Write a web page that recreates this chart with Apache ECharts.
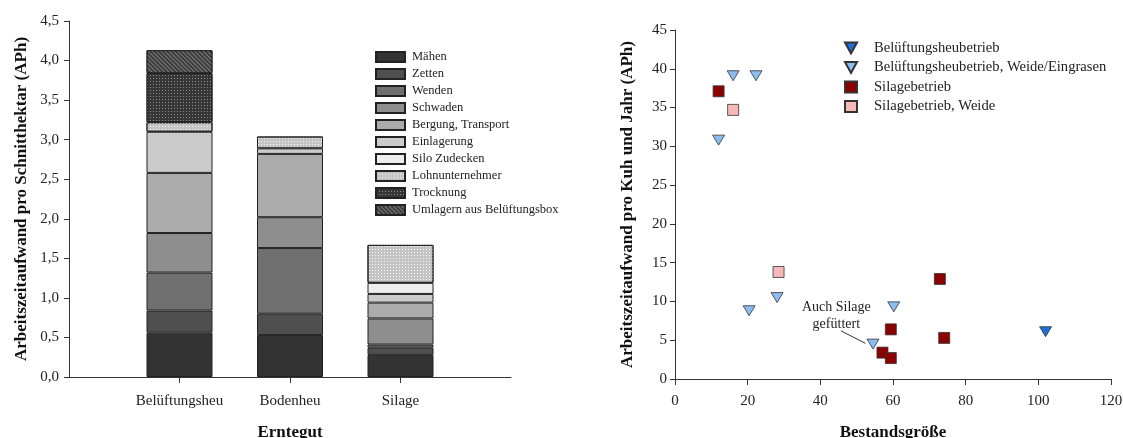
<!DOCTYPE html>
<html><head><meta charset="utf-8">
<script src="https://cdn.jsdelivr.net/npm/echarts@6/dist/echarts.min.js"></script>
<style>html,body{margin:0;padding:0;background:#fff}#c{width:1123px;height:438px}</style>
</head><body><div id="c"></div>
<script>
// ---- Left chart data ----
const categories = ['Belüftungsheu', 'Bodenheu', 'Silage'];
const taskNames = ['Mähen','Zetten','Wenden','Schwaden','Bergung, Transport','Einlagerung','Silo Zudecken','Lohnunternehmer','Trocknung','Umlagern aus Belüftungsbox'];
const maehen        = [0.56, 0.53, 0.28];
const zetten        = [0.28, 0.27, 0.09];
const wenden        = [0.48, 0.83, 0.04];
const schwaden      = [0.50, 0.39, 0.33];
const bergung       = [0.76, 0.80, 0.20];
const einlagerung   = [0.52, 0.07, 0.11];
const siloZudecken  = [0, 0, 0.14];
const lohnunternehmer = [0.12, 0.15, 0.48];
const trocknung     = [0.62, 0, 0];
const umlagern      = [0.29, 0, 0];
const leftYTicks = ['0,0','0,5','1,0','1,5','2,0','2,5','3,0','3,5','4,0','4,5'];

// ---- Right chart data: [Bestandsgröße, APh] ----
const belueftungsheubetrieb = [[102, 6.1]];
const belueftungsheuWeide = [[16, 39.1],[22.3, 39.1],[12, 30.8],[20.4, 8.8],[28.1, 10.5],[60.2, 9.3],[54.5, 4.5]];
const silagebetrieb = [[12, 37.1],[72.9, 12.9],[59.4, 6.4],[74.1, 5.3],[57.1, 3.4],[59.4, 2.7]];
const silageWeide = [[16, 34.7],[28.5, 13.8]];
const scatterNames = ['Belüftungsheubetrieb','Belüftungsheubetrieb, Weide/Eingrasen','Silagebetrieb','Silagebetrieb, Weide'];
const annotationText = 'Auch Silage\ngefüttert';
const annotationAt = [44.4, 8.2];
const annotationArrow = [[45.7, 6.2],[52.4, 4.6]];

const FONT = '"Liberation Serif","DejaVu Serif",serif';
const AX = '#333';
const segValues = [maehen, zetten, wenden, schwaden, bergung, einlagerung, siloZudecken, lohnunternehmer, trocknung, umlagern];
const segColors = ['#333333','#4f4f4f','#707070','#8e8e8e','#ababab','#cbcbcb','#eeeeee','#c4c4c4','#363636','#3c3c3c'];
const segDecals = [null,null,null,null,null,null,null,
  {symbol:'rect', symbolSize:1, dashArrayX:[1,2], dashArrayY:[1,2], color:'rgba(255,255,255,0.85)'},
  {symbol:'rect', symbolSize:1, dashArrayX:[1,2], dashArrayY:[1,2], color:'rgba(150,150,150,0.9)'},
  {symbol:'rect', symbolSize:1, dashArrayX:[1,0], dashArrayY:[1,2], rotation:Math.PI/4, color:'rgba(130,130,130,0.9)'}
];

const axisCats = [''].concat(categories, ['']);
const pad = a => [null].concat(a.map(v => v === 0 ? null : v), [null]);

const series = segValues.map((vals, i) => {
  const style = {color: segColors[i], borderColor: '#222', borderWidth: 1};
  if (segDecals[i]) style.decal = segDecals[i];
  return {
    name: taskNames[i], type: 'bar', stack: 'total', xAxisIndex: 0, yAxisIndex: 0,
    barWidth: 66, data: pad(vals), itemStyle: style, emphasis: {disabled: true}
  };
});

const triPath = 'path://M0,0 L10,0 L5,9 Z';
const scatterStyles = [
  {data: belueftungsheubetrieb, symbol: triPath, symbolSize: [12, 10], color: '#1f6fd6'},
  {data: belueftungsheuWeide, symbol: triPath, symbolSize: [12, 10], color: '#8cbcf0'},
  {data: silagebetrieb, symbol: 'rect', symbolSize: 11, color: '#8b0000'},
  {data: silageWeide, symbol: 'rect', symbolSize: 11, color: '#f7b8b8'}
];
scatterStyles.forEach((s, i) => {
  const ser = {
    name: scatterNames[i], type: 'scatter', xAxisIndex: 1, yAxisIndex: 1,
    data: s.data, symbol: s.symbol, symbolSize: s.symbolSize,
    itemStyle: {color: s.color, borderColor: '#333', borderWidth: 0.8, opacity: 1},
    emphasis: {disabled: true}
  };
  if (i === 1) {
    ser.markLine = {
      silent: true, symbol: ['none', 'arrow'], symbolSize: [0, 7],
      lineStyle: {color: '#333', width: 1, type: 'solid'}, label: {show: false},
      data: [[{coord: annotationArrow[0]}, {coord: annotationArrow[1]}]]
    };
    ser.markPoint = {
      silent: true, symbol: 'circle', symbolSize: 0,
      label: {show: true, position: 'inside', formatter: annotationText, fontFamily: FONT, fontSize: 14, lineHeight: 17, color: '#222'},
      data: [{coord: annotationAt}]
    };
  }
  series.push(ser);
});

const chart = echarts.init(document.getElementById('c'), null, {renderer: 'canvas'});
chart.setOption({
  animation: false,
  backgroundColor: '#fff',
  textStyle: {fontFamily: FONT},
  grid: [
    {left: 69, right: 612, top: 21, bottom: 61, containLabel: false, outerBoundsMode: 'none'},
    {left: 675, right: 12, top: 30, bottom: 59, containLabel: false, outerBoundsMode: 'none'}
  ],
  legend: [
    {
      data: taskNames, orient: 'vertical', left: 370, top: 45.5,
      icon: 'rect', itemWidth: 29, itemHeight: 10, itemGap: 4,
      textStyle: {fontFamily: FONT, fontSize: 12.5, color: '#222', padding: [0, 0, 0, 2]}, selectedMode: false
    },
    {
      data: scatterNames.map((n, i) => ({name: n, icon: scatterStyles[i].symbol})),
      orient: 'vertical', left: 839, top: 35.5,
      itemWidth: 12, itemHeight: 11, itemGap: 4.5,
      textStyle: {fontFamily: FONT, fontSize: 14.6, color: '#222', padding: [0, 0, 0, 12]}, selectedMode: false
    }
  ],
  xAxis: [
    {
      gridIndex: 0, type: 'category', data: axisCats, boundaryGap: false,
      name: 'Erntegut', nameLocation: 'middle', nameGap: 47,
      nameTextStyle: {fontFamily: FONT, fontSize: 17, fontWeight: 'bold', color: '#111'},
      axisLine: {lineStyle: {color: AX, width: 1}},
      axisTick: {length: 6, lineStyle: {color: AX}, interval: (i, v) => v !== ''},
      axisLabel: {fontFamily: FONT, fontSize: 15, color: '#222', margin: 17, interval: 0},
      splitLine: {show: false}
    },
    {
      gridIndex: 1, type: 'value', min: 0, max: 120, interval: 20,
      name: 'Bestandsgröße', nameLocation: 'middle', nameGap: 45,
      nameTextStyle: {fontFamily: FONT, fontSize: 17, fontWeight: 'bold', color: '#111'},
      axisLine: {show: true, lineStyle: {color: AX, width: 1}},
      axisTick: {show: true, length: 6, lineStyle: {color: AX}},
      axisLabel: {fontFamily: FONT, fontSize: 15, color: '#222', margin: 15},
      splitLine: {show: false}
    }
  ],
  yAxis: [
    {
      gridIndex: 0, type: 'value', min: 0, max: 4.5, interval: 0.5,
      name: 'Arbeitszeitaufwand pro Schnitthektar (APh)', nameLocation: 'middle', nameGap: 39,
      nameTextStyle: {fontFamily: FONT, fontSize: 17, fontWeight: 'bold', color: '#111'},
      axisLine: {show: true, lineStyle: {color: AX, width: 1}},
      axisTick: {show: true, length: 5, lineStyle: {color: AX}},
      axisLabel: {fontFamily: FONT, fontSize: 15, color: '#222', margin: 10,
        formatter: v => leftYTicks[Math.round(v / 0.5)]},
      splitLine: {show: false}
    },
    {
      gridIndex: 1, type: 'value', min: 0, max: 45, interval: 5,
      name: 'Arbeitszeitaufwand pro Kuh und Jahr (APh)', nameLocation: 'middle', nameGap: 39,
      nameTextStyle: {fontFamily: FONT, fontSize: 17, fontWeight: 'bold', color: '#111'},
      axisLine: {show: true, lineStyle: {color: AX, width: 1}},
      axisTick: {show: true, length: 5, lineStyle: {color: AX}},
      axisLabel: {fontFamily: FONT, fontSize: 15, color: '#222', margin: 8},
      splitLine: {show: false}
    }
  ],
  series: series
});
</script>
</body></html>
